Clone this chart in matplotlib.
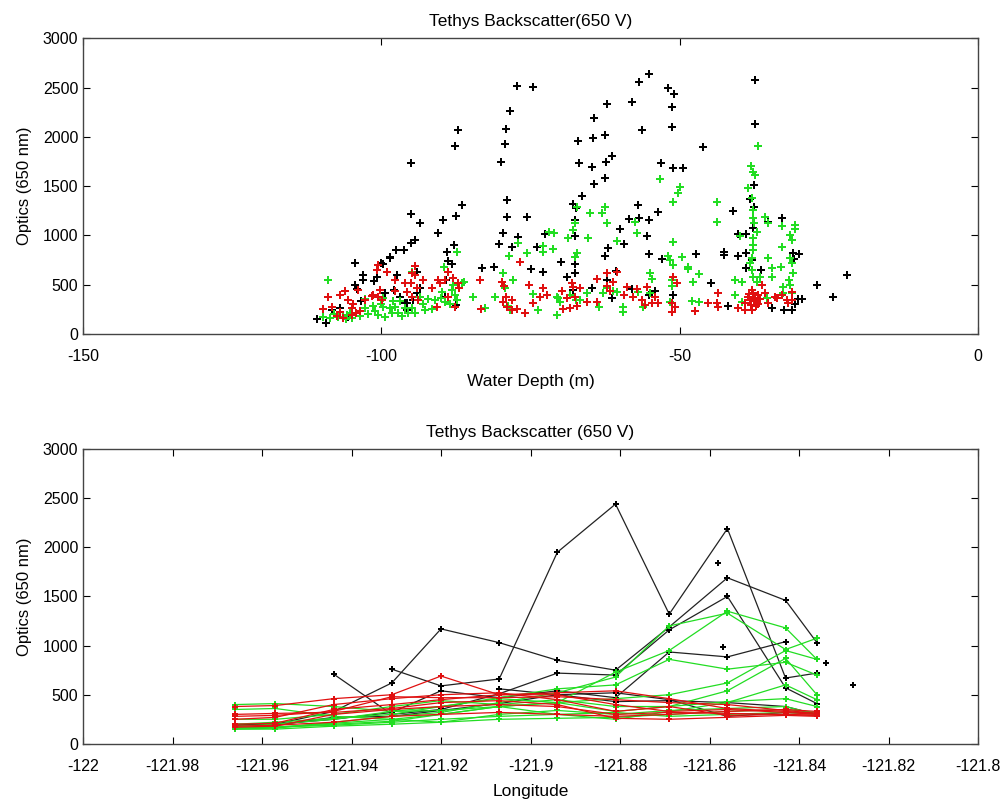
import numpy as np
import matplotlib
matplotlib.use("Agg")
import matplotlib.pyplot as plt

nan = np.nan

# ---- top panel: optics vs water depth ----
black_depth = [-110.8, -109.3, -77.3, -74.6, -78.4, -79.1, -79.3, -80.0, -87.2, -87.7, -95.0, -95.0, -86.5, -89.7,
               -87.5, -90.5, -93.5, -94.4, -95.0, -97.5, -96.2, -98.5, -100.1, -104.4, -79.0, -79.0, -79.6, -80.3,
               -83.1, -81.1, -77.1, -78.1, -75.6, -74.9, -73.9, -71.2, -72.9, -72.6, -69.9, -68.9, -67.5, -67.5,
               -67.5, -67.5, -67.4, -67.9, -66.4, -67.0, -66.9, -64.4, -64.5, -64.7, -64.4, -64.7, -67.9,
               -97.4, -97.9, -101.2, -103.1, -104.1, -106.9, -103.4, -94.0, -93.5, -95.7, -89.0, -88.8, -88.2,
               -87.8, -87.3, -89.3, -87.5, -89.2, -94.7, -96.9, -99.4, -99.7, -94.0, -103.1, -104.4, -105.6,
               -108.3, -100.7, -99.7, -98.5, -96.0, -95.7,
               -55.1, -56.8, -52.0, -51.0, -51.3, -51.3, -62.2, -58.0, -62.5, -56.3, -61.3, -62.4, -62.5, -53.1,
               -51.1, -49.4, -46.1, -37.4, -37.4, -37.5, -37.5, -37.7, -38.2, -38.9, -41.1, -32.9, -35.2, -31.0,
               -30.0, -30.8, -22.0, -24.3, -27.0, -29.5, -30.2, -30.7, -31.2, -32.5, -34.5, -36.4, -37.9, -37.9,
               -38.9, -38.9, -40.2, -40.2, -42.6, -42.6, -44.8, -41.9, -47.3, -53.0, -55.1, -55.5, -55.1, -57.0,
               -56.8, -58.5, -53.6, -59.3, -62.0, -60.0, -62.5, -60.6, -51.1, -54.1, -55.1, -58.0, -61.3, -62.2]
black_optics = [152, 111, 2513, 2503, 2260, 2078, 1925, 1743, 2068, 1905, 1733, 1216, 1307, 1155,
                1196, 1024, 1125, 953, 922, 851, 851, 780, 720, 720, 1358, 1186, 1024, 912,
                669, 679, 983, 882, 1186, 659, 882, 861, 628, 1013, 730, 578, 618, 709,
                993, 1155, 1277, 1317, 1398, 1956, 1733, 2189, 1986, 1693, 1520, 466, 446,
                598, 446, 537, 547, 456, 263, 334, 628, 466, 314, 831, 740, 709,
                902, 831, 375, 294, 547, 345, 375, 415, 274, 415, 598, 497, 172,
                243, 578, 709, 770, 314, 243,
                2635, 2554, 2493, 2432, 2301, 2098, 2331, 2351, 2017, 2068, 1804, 1743, 1581, 1733,
                1682, 1682, 1895, 2574, 2128, 1510, 1287, 1074, 1368, 1013, 1247, 1176, 1135, 821,
                811, 760, 598, 375, 497, 355, 355, 304, 243, 243, 263, 649, 649, 750,
                821, 669, 790, 1013, 831, 800, 517, 284, 811, 760, 811, 993, 1155, 1307,
                1176, 1166, 1237, 912, 872, 1064, 790, 638, 395, 436, 395, 456, 365, 547]

green_depth = [-108.9, -109.8, -108.6, -107.2, -106.4, -105.7, -105.2, -104.9, -102.7, -102.7, -102.2, -101.4,
               -100.6, -99.7, -99.7, -99.4, -98.5, -98.2, -97.7, -97.2, -96.9, -96.0, -95.5, -94.9, -94.4,
               -94.9, -93.5, -92.7, -92.2, -91.0, -89.8, -89.3, -88.2, -88.0, -87.7, -87.3, -86.5, -86.2,
               -84.6, -87.3, -89.5, -108.0, -106.0, -103.5, -101.0, -100.0, -98.0, -96.5, -93.0, -91.5,
               -90.0, -88.5,
               -82.6, -81.0, -79.6, -79.3, -78.8, -78.4, -77.9, -77.1, -78.6, -75.6, -74.6, -73.8, -72.9,
               -72.9, -71.9, -71.1, -71.2, -70.6, -70.1, -70.4, -68.7, -67.9, -67.5, -67.2, -67.5, -67.2,
               -68.4, -67.4, -66.7, -65.4, -65.0, -63.0, -62.5, -62.2, -60.5, -65.5, -63.6, -62.8, -62.2,
               -61.2, -60.5, -59.5, -59.5, -57.5, -57.2, -57.0, -56.2, -55.0, -54.6, -55.0, -70.6,
               -53.3, -51.1, -50.2, -49.9, -43.7, -43.8, -51.1, -52.0, -51.6, -51.1, -49.6, -48.6, -48.6,
               -46.8, -47.8, -51.3, -51.3, -51.6, -47.9, -46.8, -36.9, -38.0, -37.7, -37.4, -38.5, -37.9,
               -37.7, -37.7, -37.5, -37.0, -37.7, -37.7, -37.7, -37.9, -38.2, -37.9, -37.7, -37.0, -36.5,
               -39.9, -40.7, -39.5, -40.7, -39.5, -35.7, -35.2, -35.2, -34.5, -34.5, -35.4, -32.9, -33.0,
               -32.9, -31.5, -31.2, -30.7, -30.7, -31.5, -31.2, -31.0, -31.7, -31.5, -32.7, -32.7, -31.2]
green_optics = [547, 172, 162, 172, 172, 193, 213, 162, 355, 263, 203, 284,
                193, 274, 365, 172, 263, 213, 274, 213, 334, 263, 213, 263, 213,
                628, 375, 243, 355, 345, 426, 324, 446, 497, 395, 345, 517, 527,
                375, 831, 679, 200, 150, 180, 230, 300, 330, 180, 300, 250,
                370, 300,
                263, 375, 618, 466, 284, 243, 547, 922, 790, 821, 405, 243, 892,
                831, 1034, 1024, 861, 193, 324, 365, 973, 1054, 1125, 821, 780, 1287,
                395, 345, 345, 973, 1226, 1226, 1287, 1125, 943, 415, 274, 415, 466,
                436, 426, 274, 223, 1135, 1024, 426, 274, 618, 557, 415, 375,
                1571, 1338, 1429, 1490, 1338, 1135, 932, 790, 750, 699, 780, 679, 659,
                608, 527, 547, 486, 324, 334, 324, 1905, 1703, 1642, 1611, 1480, 1378,
                1257, 1176, 1125, 1034, 973, 902, 851, 770, 720, 649, 578, 527, 578,
                993, 547, 527, 395, 324, 1186, 1125, 770, 669, 578, 365, 1095, 679,
                882, 1003, 953, 1105, 1064, 770, 720, 618, 547, 497, 476, 415, 415]

red_depth = [-108.9, -109.8, -108.3, -106.9, -106.1, -105.6, -104.9, -104.2, -103.9, -104.7, -102.7, -101.6,
             -101.4, -100.6, -100.7, -100.6, -100.2, -99.9, -99.1, -97.7, -97.7, -96.0, -95.7, -95.0, -94.9,
             -94.4, -94.4, -94.0, -93.9, -93.0, -94.9, -91.5, -90.7, -90.5, -90.2, -89.3, -88.8, -88.9,
             -88.0, -87.7, -87.2, -86.9, -83.5, -83.3, -107.5, -106.5, -105.0, -103.5, -107.0,
             -79.8, -79.4, -79.1, -79.6, -78.9, -78.1, -78.1, -76.8, -77.3, -75.9, -75.3, -74.6, -73.4,
             -72.9, -72.2, -69.7, -68.9, -69.5, -68.4, -68.0, -67.9, -67.5, -67.2, -66.7, -65.5, -63.9,
             -63.9, -62.2, -62.1, -61.7, -61.2, -60.5, -59.3, -58.8, -57.8, -57.2, -56.3, -55.8, -55.5,
             -54.6, -54.1, -53.6, -51.1, -50.4, -51.3, -50.8, -51.3, -47.4, -45.3, -43.6, -43.8, -43.6,
             -40.2, -39.0, -38.5, -38.2, -37.9, -37.7, -37.4, -37.0, -36.9, -37.9, -39.0, -36.2, -35.7,
             -35.2, -34.0, -33.7, -32.9, -32.0, -31.8, -31.2, -31.2, -37.5, -36.8, -38.0, -37.2, -36.5,
             -38.4]
red_optics = [375, 253, 274, 395, 436, 345, 263, 213, 446, 304, 345, 385,
              395, 375, 649, 699, 446, 345, 628, 547, 436, 517, 426, 517, 618,
              689, 598, 466, 345, 547, 375, 466, 274, 547, 517, 547, 628, 375,
              568, 274, 517, 466, 547, 253, 180, 160, 190, 230, 220,
              527, 486, 375, 324, 274, 345, 243, 730, 253, 213, 497, 314, 375,
              466, 395, 436, 365, 253, 263, 517, 476, 375, 284, 466, 324, 557,
              324, 618, 486, 436, 527, 628, 395, 476, 375, 456, 345, 294, 476,
              314, 375, 314, 578, 517, 314, 274, 223, 233, 314, 415, 314, 274,
              263, 314, 375, 345, 446, 415, 365, 314, 395, 243, 243, 497, 415,
              314, 375, 365, 395, 345, 314, 426, 345, 330, 300, 290, 280, 350,
              410]

# ---- bottom panel: optics vs longitude, one line per profile ----
lon_st = [-121.966, -121.957, -121.944, -121.931, -121.920, -121.907, -121.894,
          -121.881, -121.869, -121.856, -121.843, -121.836, -121.828]

black_lines = [
    [190, 200, 330, 620, 1170, 1030, 850, 750, 1190, 1690, 1460, 1030, nan],
    [nan, nan, nan, 760, 590, 660, 1950, 2440, 1320, 2190, 670, 720, nan],
    [nan, nan, 710, 300, 350, 510, 720, 700, 1160, 1500, 570, 410, nan],
    [200, 190, 270, 280, 340, 410, 500, 430, 440, 420, 380, 300, nan],
    [190, 200, 250, 320, 540, 470, 540, 470, 935, 885, 1040, nan, 600],
    [nan, nan, nan, nan, nan, 560, 500, 520, 450, 280, 320, 310, nan],
]
black_lone_lon = [-121.858, -121.857, -121.834]
black_lone_val = [1840, 990, 820]

green_lines = [
    [160, 170, 210, 250, 300, 380, 420, 730, 950, 1350, 1180, 860, nan],
    [150, 160, 220, 280, 320, 420, 520, 680, 1200, 1330, 960, 1075, nan],
    [180, 200, 250, 330, 380, 470, 560, 600, 860, 760, 830, 700, nan],
    [400, 410, 380, 330, 340, 380, 420, 460, 500, 620, 950, 860, nan],
    [200, 220, 260, 300, 380, 460, 420, 330, 380, 540, 870, 500, nan],
    [160, 170, 200, 230, 300, 380, 300, 250, 330, 420, 600, 450, nan],
    [350, 360, 280, 250, 220, 300, 340, 300, 340, 360, 380, 300, nan],
    [150, 150, 180, 200, 220, 250, 260, 270, 300, 330, 350, 320, nan],
    [250, 250, 300, 380, 440, 400, 450, 380, 380, 430, 460, 380, nan],
    [170, 170, 190, 220, 250, 280, 300, 320, 280, 300, 320, 300, nan],
]

red_lines = [
    [380, 390, 460, 500, 690, 500, 500, 400, 330, 350, 320, 300, nan],
    [280, 290, 330, 480, 470, 470, 480, 450, 420, 400, 340, 310, nan],
    [200, 210, 350, 400, 450, 500, 520, 540, 460, 360, 330, 310, nan],
    [250, 270, 400, 460, 500, 520, 450, 330, 380, 290, 300, 290, nan],
    [170, 180, 300, 350, 380, 400, 380, 300, 320, 310, 300, 290, nan],
    [300, 310, 320, 360, 420, 440, 400, 260, 250, 270, 290, 280, nan],
    [180, 190, 220, 280, 300, 320, 300, 280, 300, 330, 350, 330, nan],
]

BLACK = "#000000"
GREEN = "#22dd22"
RED = "#e01010"

plt.rcParams["font.family"] = ["Liberation Sans", "DejaVu Sans"]
plt.rcParams["axes.unicode_minus"] = False
fig = plt.figure(figsize=(10, 7.99), dpi=100)

ax1 = fig.add_axes([0.083, 0.582, 0.895, 0.370])
ax1.plot(black_depth, black_optics, "P", color=BLACK, ms=5.5, mew=0, ls="none")
ax1.plot(green_depth, green_optics, "P", color=GREEN, ms=5.5, mew=0, ls="none")
ax1.plot(red_depth, red_optics, "P", color=RED, ms=5.5, mew=0, ls="none")
ax1.set_xlim(-150, 0)
ax1.set_ylim(0, 3000)
ax1.set_xticks([-150, -100, -50, 0])
ax1.set_yticks(range(0, 3001, 500))
ax1.set_title("Tethys Backscatter(650 V)", fontsize=12.5, pad=9)
ax1.set_xlabel("Water Depth (m)", fontsize=12.5, labelpad=7)
ax1.set_ylabel("Optics (650 nm)", fontsize=12, labelpad=8)

ax2 = fig.add_axes([0.083, 0.069, 0.895, 0.369])
for vals in black_lines:
    ax2.plot(lon_st, vals, "-P", color="#222222", lw=0.9, ms=4.2, mew=0, mfc=BLACK)
ax2.plot(black_lone_lon, black_lone_val, "P", color=BLACK, ms=4.2, mew=0, ls="none")
for vals in green_lines:
    ax2.plot(lon_st, vals, "-P", color=GREEN, lw=0.9, ms=4.2, mew=0)
for vals in red_lines:
    ax2.plot(lon_st, vals, "-P", color=RED, lw=0.9, ms=4.2, mew=0)
ax2.set_xlim(-122, -121.8)
ax2.set_ylim(0, 3000)
ax2.set_xticks(np.round(np.arange(-122, -121.799, 0.02), 2))
ax2.set_xticklabels(["-122", "-121.98", "-121.96", "-121.94", "-121.92", "-121.9",
                     "-121.88", "-121.86", "-121.84", "-121.82", "-121.8"])
ax2.set_yticks(range(0, 3001, 500))
ax2.set_title("Tethys Backscatter (650 V)", fontsize=12.5, pad=9)
ax2.set_xlabel("Longitude", fontsize=12.5, labelpad=7)
ax2.set_ylabel("Optics (650 nm)", fontsize=12, labelpad=8)

for ax in (ax1, ax2):
    ax.tick_params(direction="in", top=True, right=True, length=5, labelsize=11.5)
    ax.tick_params(axis="x", pad=11)
    for s in ax.spines.values():
        s.set_color("#444444")
        s.set_linewidth(1.0)

fig.savefig("out.png", dpi=100)
